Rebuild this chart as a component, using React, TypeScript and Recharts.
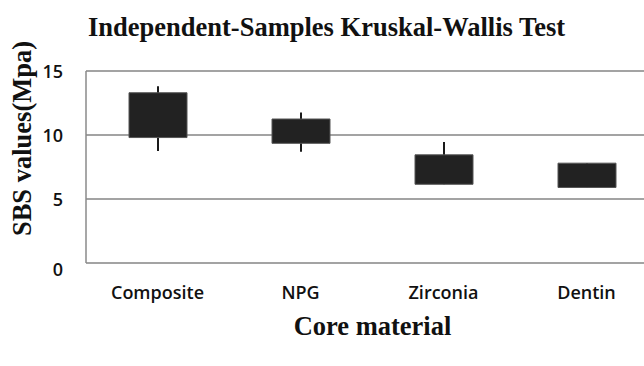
import React from "react";
import { ComposedChart, Bar, XAxis, YAxis, CartesianGrid } from "recharts";

const categories = ["Composite", "NPG", "Zirconia", "Dentin"];
const boxLow = [9.8, 9.35, 6.15, 5.9];
const boxHigh = [13.3, 11.25, 8.45, 7.8];
const whiskerLow = [8.75, 8.7, 6.15, 5.9];
const whiskerHigh = [13.8, 11.75, 9.45, 7.8];
const yTicks = [0, 5, 10, 15];

const data = categories.map((name, i) => ({
  name,
  box: [boxLow[i], boxHigh[i]],
  whisker: [whiskerLow[i], whiskerHigh[i]],
}));

const YTick = (props: any) => {
  const { x, y, payload } = props;
  const dy = payload.value === 0 ? 13 : 7;
  return (
    <text
      x={x}
      y={y}
      dy={dy}
      textAnchor="end"
      fill="#111"
      fontFamily="'Open Sans', sans-serif"
      fontWeight={600}
      fontSize={18}
    >
      {payload.value}
    </text>
  );
};

const serif = "'Liberation Serif', 'Times New Roman', serif";

export default function App() {
  return (
    <div
      style={{
        position: "fixed",
        left: 0,
        top: 0,
        width: 644,
        height: 366,
        overflow: "hidden",
        background: "#fff",
      }}
    >
      <ComposedChart
        width={680}
        height={366}
        data={data}
        margin={{ top: 71, right: 22, left: 0, bottom: 63 }}
      >
        <CartesianGrid
          xAxisId="box"
          vertical={false}
          stroke="#a3a3a3"
          strokeWidth={2}
        />
        <XAxis
          xAxisId="box"
          dataKey="name"
          height={40}
          axisLine={false}
          tickLine={false}
          tickSize={0}
          tickMargin={23}
          tick={{
            fill: "#111",
            fontFamily: "'Open Sans', sans-serif",
            fontWeight: 600,
            fontSize: 18,
          }}
        />
        <XAxis xAxisId="wh" dataKey="name" hide />
        <YAxis
          width={86}
          domain={[0, 15]}
          ticks={yTicks}
          interval={0}
          axisLine={{ stroke: "#8a8a8a", strokeWidth: 1.5 }}
          tickLine={false}
          tickSize={0}
          tickMargin={23}
          tick={<YTick />}
        />
        <Bar
          xAxisId="wh"
          dataKey="whisker"
          barSize={2}
          fill="#1a1a1a"
          isAnimationActive={false}
        />
        <Bar
          xAxisId="box"
          dataKey="box"
          barSize={58}
          fill="#222222"
          stroke="#555555"
          strokeWidth={1}
          isAnimationActive={false}
        />
      </ComposedChart>
      <svg
        width={644}
        height={366}
        style={{ position: "absolute", left: 0, top: 0, pointerEvents: "none" }}
      >
        <text
          x={88}
          y={36}
          fontFamily={serif}
          fontWeight="bold"
          fontSize={26.5}
          fill="#111"
        >
          Independent-Samples Kruskal-Wallis Test
        </text>
        <text
          x={372.5}
          y={335}
          textAnchor="middle"
          fontFamily={serif}
          fontWeight="bold"
          fontSize={26.5}
          fill="#111"
        >
          Core material
        </text>
        <text
          transform="translate(31,138.5) rotate(-90)"
          textAnchor="middle"
          fontFamily={serif}
          fontWeight="bold"
          fontSize={26.5}
          fill="#111"
        >
          SBS values(Mpa)
        </text>
      </svg>
    </div>
  );
}
